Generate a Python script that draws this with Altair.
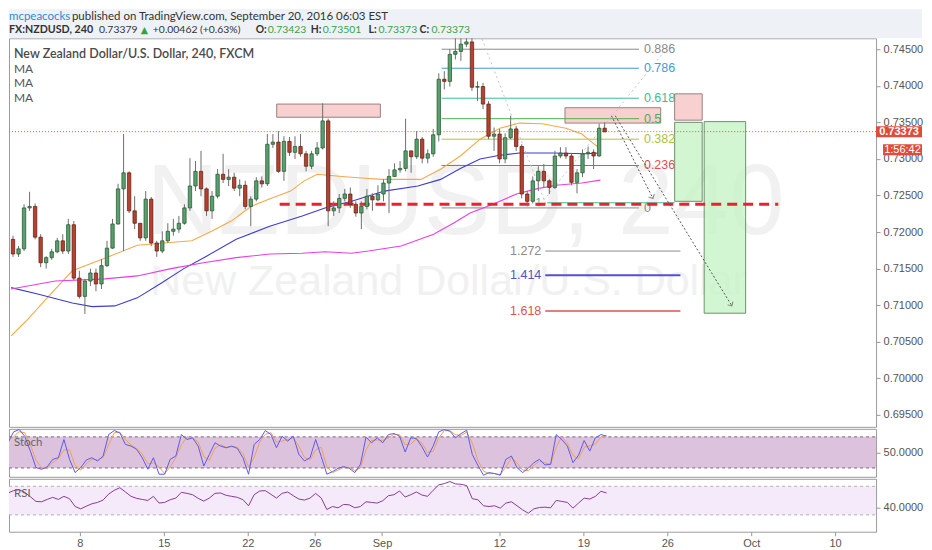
import altair as alt
import pandas as pd

# ---------------------------------------------------------------- data
# time unit: trading days counted from Monday 8 Aug 2016 (axis label "8"); one candle = 8 h
BAR_T0 = -4.286
BAR_STEP = 1 / 3

FIRST_OPEN = 0.7190
CLOSES = [
    0.7170, 0.7177, 0.7233, 0.7235, 0.7193, 0.7158, 0.7165, 0.7173, 0.7188, 0.7174,
    0.7210, 0.7137, 0.7112, 0.7133, 0.7144, 0.7129, 0.7154, 0.7178, 0.7211, 0.7259,
    0.7281, 0.7229, 0.7212, 0.7192, 0.7245, 0.7185, 0.7174, 0.7188, 0.7201, 0.7204,
    0.7212, 0.7233, 0.7263, 0.7283, 0.7259, 0.7229, 0.7249, 0.7279, 0.7272, 0.7275,
    0.7260, 0.7264, 0.7235, 0.7245, 0.7270, 0.7266, 0.7320, 0.7323, 0.7283, 0.7324,
    0.7309, 0.7317, 0.7307, 0.7290, 0.7307, 0.7315, 0.7352, 0.7229, 0.7233, 0.7246,
    0.7252, 0.7238, 0.7226, 0.7235, 0.7249, 0.7244, 0.7252, 0.7267, 0.7276, 0.7285,
    0.7287, 0.7311, 0.7303, 0.7327, 0.7301, 0.7307, 0.7333, 0.7409, 0.7406, 0.7443,
    0.7447, 0.7457, 0.7460, 0.7398, 0.7399, 0.7375, 0.7331, 0.7334, 0.7300, 0.7329,
    0.7341, 0.7317, 0.7252, 0.7242, 0.7270, 0.7283, 0.7270, 0.7261, 0.7304, 0.7308,
    0.7304, 0.7268, 0.7281, 0.7307, 0.7309, 0.7304, 0.7342, 0.7337,
]
HIGHS = [
    0.7195, 0.7181, 0.7238, 0.7255, 0.7239, 0.7197, 0.7167, 0.7177, 0.7192, 0.7197,
    0.7218, 0.7215, 0.7147, 0.7136, 0.7150, 0.7150, 0.7163, 0.7188, 0.7218, 0.7266,
    0.7334, 0.7283, 0.7249, 0.7212, 0.7256, 0.7248, 0.7188, 0.7201, 0.7212, 0.7218,
    0.7222, 0.7238, 0.7301, 0.7297, 0.7311, 0.7261, 0.7256, 0.7286, 0.7307, 0.7286,
    0.7281, 0.7272, 0.7270, 0.7249, 0.7275, 0.7276, 0.7334, 0.7334, 0.7338, 0.7331,
    0.7330, 0.7331, 0.7334, 0.7311, 0.7311, 0.7323, 0.7376, 0.7355, 0.7242, 0.7252,
    0.7259, 0.7261, 0.7242, 0.7242, 0.7259, 0.7253, 0.7264, 0.7272, 0.7286, 0.7294,
    0.7297, 0.7355, 0.7311, 0.7338, 0.7330, 0.7313, 0.7341, 0.7417, 0.7420, 0.7450,
    0.7465, 0.7465, 0.7465, 0.7465, 0.7406, 0.7404, 0.7379, 0.7343, 0.7341, 0.7335,
    0.7359, 0.7345, 0.7320, 0.7256, 0.7276, 0.7290, 0.7293, 0.7272, 0.7311, 0.7316,
    0.7316, 0.7308, 0.7286, 0.7313, 0.7317, 0.7313, 0.7348, 0.7350,
]
LOWS = [
    0.7166, 0.7166, 0.7174, 0.7229, 0.7190, 0.7152, 0.7150, 0.7162, 0.7171, 0.7170,
    0.7170, 0.7134, 0.7109, 0.7088, 0.7126, 0.7119, 0.7122, 0.7152, 0.7177, 0.7210,
    0.7174, 0.7226, 0.7204, 0.7188, 0.7188, 0.7181, 0.7166, 0.7171, 0.7185, 0.7195,
    0.7199, 0.7210, 0.7229, 0.7256, 0.7249, 0.7222, 0.7218, 0.7246, 0.7267, 0.7263,
    0.7256, 0.7249, 0.7231, 0.7208, 0.7242, 0.7261, 0.7263, 0.7315, 0.7281, 0.7270,
    0.7304, 0.7300, 0.7303, 0.7283, 0.7286, 0.7304, 0.7313, 0.7208, 0.7222, 0.7226,
    0.7242, 0.7233, 0.7221, 0.7204, 0.7231, 0.7229, 0.7242, 0.7242, 0.7226, 0.7276,
    0.7281, 0.7283, 0.7281, 0.7300, 0.7294, 0.7294, 0.7303, 0.7324, 0.7395, 0.7399,
    0.7436, 0.7434, 0.7453, 0.7393, 0.7379, 0.7368, 0.7327, 0.7311, 0.7294, 0.7294,
    0.7327, 0.7311, 0.7246, 0.7235, 0.7239, 0.7256, 0.7261, 0.7252, 0.7259, 0.7301,
    0.7300, 0.7264, 0.7253, 0.7275, 0.7300, 0.7286, 0.7303, 0.7337,
]

STOCH_K = [
    68.6, 89.6, 94.1, 81.3, 52.6, 20.7, 17.5, 22.0, 36.6, 39.8,
    75.0, 36.6, 11.1, 20.7, 35.4, 39.8, 33.4, 43.0, 84.5, 92.2,
    87.7, 65.4, 62.2, 55.8, 39.8, 17.5, 39.8, 7.9, 7.9, 36.6,
    43.0, 84.5, 75.0, 78.1, 62.2, 23.9, 46.2, 68.6, 62.2, 59.0,
    62.2, 57.7, 39.8, 7.9, 65.4, 75.0, 92.2, 84.5, 59.0, 81.3,
    71.8, 81.3, 46.2, 33.4, 39.8, 75.0, 42.0, 7.9, 13.0, 19.4,
    22.6, 19.4, 11.1, 27.0, 79.4, 68.6, 78.1, 68.6, 84.5, 86.4,
    81.3, 50.7, 78.1, 76.9, 60.9, 41.1, 62.2, 89.6, 94.1, 90.9,
    78.1, 86.4, 92.8, 46.2, 25.1, 6.0, 11.1, 9.2, 6.0, 36.6,
    43.0, 20.7, 11.1, 19.4, 30.2, 36.6, 25.8, 27.0, 84.5, 75.0,
    62.2, 30.2, 44.9, 73.0, 52.6, 78.1, 84.5, 81.3,
]
STOCH_D = [
    75, 80, 90, 88, 65, 35, 20, 20, 30, 38,
    55, 55, 25, 16, 28, 37, 36, 40, 65, 88,
    89, 75, 64, 58, 47, 28, 30, 22, 9, 22,
    40, 65, 80, 78, 70, 42, 35, 58, 65, 60,
    61, 60, 48, 22, 40, 70, 85, 88, 70, 72,
    75, 78, 62, 40, 36, 55, 60, 22, 11, 16,
    21, 21, 15, 20, 55, 73, 74, 73, 78, 85,
    84, 65, 66, 76, 68, 50, 52, 78, 92, 92,
    84, 83, 89, 68, 35, 14, 9, 9, 7, 22,
    40, 30, 16, 15, 25, 33, 30, 27, 60, 80,
    68, 44, 38, 60, 63, 66, 80, 83,
]
RSI = [
    60.6, 63.9, 65.3, 61.5, 55.4, 48.8, 48.3, 51.6, 54.5, 51.6,
    55.9, 52.6, 41.7, 38.4, 42.2, 45.5, 47.4, 50.7, 59.2, 64.4,
    68.0, 62.0, 55.9, 53.1, 51.6, 50.2, 55.9, 46.5, 47.4, 51.2,
    53.5, 61.5, 60.1, 58.2, 53.1, 49.3, 53.5, 60.1, 60.6, 57.3,
    55.9, 54.5, 51.2, 42.7, 58.2, 63.4, 63.9, 58.7, 53.5, 60.1,
    62.0, 56.8, 52.1, 50.7, 53.5, 60.0, 53.5, 37.5, 41.7, 39.9,
    44.6, 44.1, 39.9, 41.7, 48.3, 47.4, 46.5, 49.8, 56.8, 58.2,
    63.4, 55.0, 58.2, 62.0, 57.8, 55.9, 64.4, 71.9, 73.8, 76.6,
    73.3, 72.8, 71.0, 52.6, 51.2, 42.7, 41.7, 42.7, 39.4, 46.5,
    48.3, 42.7, 37.0, 32.3, 38.4, 40.3, 40.8, 39.9, 50.2, 48.8,
    47.4, 39.4, 46.5, 53.5, 52.1, 55.9, 63.0, 60.6,
]

MA_ORANGE_T = [-4.40, -3.51, -2.02, -0.71, 0.54, 1.55, 3.21, 4.82, 6.49, 7.68, 8.87, 10.06,
               11.25, 12.44, 13.27, 14.05, 15.54, 16.73, 17.92, 20.30, 21.49, 22.68, 23.87,
               25.06, 26.25, 27.62, 29.05, 30.00, 30.60, 31.01]
MA_ORANGE_P = [0.7058, 0.7078, 0.7115, 0.7147, 0.7158, 0.7167, 0.7182, 0.7185, 0.7188, 0.7201,
               0.7215, 0.7235, 0.7246, 0.7256, 0.7270, 0.7279, 0.7276, 0.7274, 0.7272, 0.7272,
               0.7286, 0.7304, 0.7327, 0.7342, 0.7349, 0.7348, 0.7342, 0.7334, 0.7323, 0.7316]
MA_BLUE_T = [-4.40, -2.74, -0.71, 0.48, 1.85, 3.21, 4.64, 6.01, 7.38, 9.17, 11.19, 13.15,
             14.52, 16.13, 18.10, 20.12, 21.49, 22.68, 23.87, 25.06, 26.25, 28.21, 30.24, 31.13]
MA_BLUE_P = [0.7124, 0.7115, 0.7103, 0.7098, 0.7099, 0.7110, 0.7130, 0.7150, 0.7167, 0.7190,
             0.7208, 0.7222, 0.7233, 0.7242, 0.7256, 0.7263, 0.7272, 0.7287, 0.7300, 0.7305,
             0.7308, 0.7308, 0.7307, 0.7308]
MA_MAGENTA_T = [-4.40, -1.73, 1.25, 3.21, 5.24, 7.20, 9.17, 11.19, 13.15, 14.52, 16.13,
                17.14, 19.11, 21.07, 22.26, 23.27, 24.64, 26.07, 27.26, 28.45, 30.00, 31.13]
MA_MAGENTA_P = [0.7122, 0.7133, 0.7136, 0.7140, 0.7150, 0.7158, 0.7165, 0.7170, 0.7171, 0.7173,
                0.7171, 0.7174, 0.7181, 0.7197, 0.7212, 0.7226, 0.7238, 0.7252, 0.7259, 0.7264,
                0.7267, 0.7271]

FIB_LABELS = ["0.886", "0.786", "0.618", "0.5", "0.382", "0.236", "0"]
FIB_PRICES = [0.7450, 0.7424, 0.7383, 0.7355, 0.7327, 0.7291, 0.7233]
FIB_COLORS = ["#8a8a8a", "#3e9bd3", "#3dbb98", "#4caf50", "#aac43c", "#d9534f", "#8a8a8a"]
FIB_T = (21.55, 33.45)
FIB_LABEL_T = 33.75

EXT_LABELS = ["1.272", "1.414", "1.618"]
EXT_PRICES = [0.7174, 0.7141, 0.7092]
EXT_COLORS = ["#8a8a8a", "#5252cc", "#d9534f"]
EXT_WIDTHS = [1.0, 2.0, 1.5]
EXT_T = (27.80, 35.95)
EXT_LABEL_T = 27.56

ONE_T = (27.92, 35.60)
ONE_P = 0.7240
ONE_LABEL_T = 27.40

ZONE_T0 = [11.61, 28.99, 35.60, 35.60, 37.38]
ZONE_T1 = [17.86, 34.76, 37.26, 37.26, 39.88]
ZONE_TOP = [0.7375, 0.7370, 0.7389, 0.7350, 0.7351]
ZONE_BOT = [0.7357, 0.7349, 0.7353, 0.7242, 0.7089]
ZONE_FILL = ["#f8c4c4", "#f8c4c4", "#f8c4c4", "#c6f4c6", "#c6f4c6"]
ZONE_EDGE = ["#9a7f7f", "#9a7f7f", "#9a7f7f", "#6f8f6f", "#6f8f6f"]

SUPPORT_T = (11.79, 41.85)
SUPPORT_P = 0.7238
LAST_PRICE = 0.73373
TIMER_PRICE = 0.73124

PATH_ID = ["a", "a", "b", "b", "c", "c", "d", "d"]
PATH_T = [23.99, 27.92, 27.32, 35.48, 31.79, 34.29, 32.02, 39.05]
PATH_P = [0.7464, 0.7233, 0.7233, 0.7461, 0.7359, 0.7246, 0.7359, 0.7099]
PATH_COL = ["#c4c4c4", "#c4c4c4", "#c4c4c4", "#c4c4c4", "#555555", "#555555", "#555555", "#555555"]
ARROW_T = [34.29, 39.05]
ARROW_P = [0.7246, 0.7099]
ARROW_ANGLE = [333, 328]

PRICE_TICKS = [0.695, 0.700, 0.705, 0.710, 0.715, 0.720, 0.725, 0.730, 0.735, 0.740, 0.745]
DATE_TICKS = [0, 5, 10, 14, 18, 25, 30, 35, 40, 45]
DATE_LABELS = ["8", "15", "22", "26", "Sep", "12", "19", "26", "Oct", "10"]

# ---------------------------------------------------------------- layout
W = 868
H_MAIN, H_STOCH, H_RSI = 389, 48, 53
XS = alt.Scale(domain=[-4.226, 47.44], nice=False, zero=False)
YS = alt.Scale(domain=[0.69336, 0.74650], nice=False, zero=False)
YS_ST = alt.Scale(domain=[3, 95.5], nice=False, zero=False)
YS_RSI = alt.Scale(domain=[6.4, 80.5], nice=False, zero=False)
AX_FONT = "Liberation Sans"


def raxis(values, fmt):
    return alt.Axis(orient="right", values=values, format=fmt, tickSize=4, labelPadding=3,
                    domain=False, grid=False, labelFont=AX_FONT, labelFontSize=11,
                    labelColor="#555555", tickColor="#999999", title=None)


Y_AX = raxis(PRICE_TICKS, ".5f")
ST_AX = raxis([50], ".4f")
RSI_AX = raxis([40], ".4f")
label_expr = " : ".join(f"datum.value == {v} ? '{l}'" for v, l in zip(DATE_TICKS, DATE_LABELS)) + " : ''"
DATE_AX = alt.Axis(values=DATE_TICKS, labelExpr=label_expr, tickSize=4, labelPadding=2,
                   domain=False, grid=False, labelFont=AX_FONT, labelFontSize=11,
                   labelColor="#555555", tickColor="#999999", title=None)


def X(f, axis=None):
    return alt.X(f, type="quantitative", scale=XS, axis=axis)


def Y(f):
    return alt.Y(f, type="quantitative", scale=YS, axis=Y_AX)


dummy = pd.DataFrame({"k": [0]})


def ptext(txt, x, y, **kw):
    align = kw.pop("align", "left")
    baseline = kw.pop("baseline", "middle")
    return alt.Chart(dummy).mark_text(text=txt, align=align, baseline=baseline, **kw).encode(
        x=alt.value(x), y=alt.value(y))


# ---------------------------------------------------------------- frames
n = len(CLOSES)
times = [BAR_T0 + i * BAR_STEP for i in range(n)]
opens = [FIRST_OPEN] + CLOSES[:-1]
bars = pd.DataFrame({"t": times, "open": opens, "close": CLOSES, "high": HIGHS, "low": LOWS})
up = bars["close"] >= bars["open"]
bars["fill"] = up.map({True: "#58a06d", False: "#b6412f"})
bars["edge"] = up.map({True: "#22502c", False: "#5c1a10"})

osc = pd.DataFrame({"t": times, "k": STOCH_K, "d": STOCH_D, "rsi": RSI})

ma = pd.concat([
    pd.DataFrame({"t": MA_ORANGE_T, "p": MA_ORANGE_P, "ma": "orange", "col": "#f5a94a"}),
    pd.DataFrame({"t": MA_BLUE_T, "p": MA_BLUE_P, "ma": "blue", "col": "#3c3ccf"}),
    pd.DataFrame({"t": MA_MAGENTA_T, "p": MA_MAGENTA_P, "ma": "magenta", "col": "#e83fe3"}),
])
fib = pd.DataFrame({"t0": FIB_T[0], "t1": FIB_T[1], "tl": FIB_LABEL_T, "p": FIB_PRICES,
                    "label": FIB_LABELS, "col": FIB_COLORS})
ext = pd.DataFrame({"t0": EXT_T[0], "t1": EXT_T[1], "tl": EXT_LABEL_T, "p": EXT_PRICES,
                    "label": EXT_LABELS, "col": EXT_COLORS, "sw": EXT_WIDTHS})
one = pd.DataFrame({"t0": [ONE_T[0]], "t1": [ONE_T[1]], "tl": [ONE_LABEL_T], "p": [ONE_P], "label": ["1"]})
zones = pd.DataFrame({"t0": ZONE_T0, "t1": ZONE_T1, "top": ZONE_TOP, "bot": ZONE_BOT,
                      "fill": ZONE_FILL, "edge": ZONE_EDGE})
support = pd.DataFrame({"t0": [SUPPORT_T[0]], "t1": [SUPPORT_T[1]], "p": [SUPPORT_P]})
last = pd.DataFrame({"p": [LAST_PRICE], "hi": [LAST_PRICE + 0.00075], "lo": [LAST_PRICE - 0.00075],
                     "label": [f"{LAST_PRICE:.5f}"]})
timer = pd.DataFrame({"p": [TIMER_PRICE], "hi": [TIMER_PRICE + 0.00075], "lo": [TIMER_PRICE - 0.00075],
                      "label": ["1:56:42"]})
paths = pd.DataFrame({"id": PATH_ID, "t": PATH_T, "p": PATH_P, "col": PATH_COL})
arrows = pd.DataFrame({"t": ARROW_T, "p": ARROW_P, "ang": ARROW_ANGLE})

# ---------------------------------------------------------------- main panel
HF = "Lato"
GREEN_TXT = "#35a345"
L1, L2 = -21, -8
F1, F2 = 11.5, 10.4
layers = [
    alt.Chart(dummy).mark_rect(color="#eef1f5").encode(
        x=alt.value(0), x2=alt.value(914), y=alt.value(-29), y2=alt.value(0)),
    ptext("mcpeacocks", 0, L1, font=HF, fontSize=F1, color="#2f8ad0"),
    ptext("published on TradingView.com, September 20, 2016 06:03 EST", 63, L1,
          font=HF, fontSize=F1, color="#333333"),
    ptext("FX:NZDUSD, 240", 0, L2, font=HF, fontSize=F2 + 0.3, fontWeight="bold", color="#333333"),
    ptext("0.73379", 90, L2, font=HF, fontSize=F2, color="#333333"),
    ptext("▲", 132, L2, font="DejaVu Sans", fontSize=9.5, color=GREEN_TXT),
    ptext("+0.00462 (+0.63%)", 144, L2, font=HF, fontSize=F2, color="#333333"),
    ptext("O:", 247, L2, font=HF, fontSize=F2, fontWeight="bold", color="#333333"),
    ptext("0.73423", 259, L2, font=HF, fontSize=F2, color=GREEN_TXT),
    ptext("H:", 302, L2, font=HF, fontSize=F2, fontWeight="bold", color="#333333"),
    ptext("0.73501", 314, L2, font=HF, fontSize=F2, color=GREEN_TXT),
    ptext("L:", 360, L2, font=HF, fontSize=F2, fontWeight="bold", color="#333333"),
    ptext("0.73373", 370, L2, font=HF, fontSize=F2, color=GREEN_TXT),
    ptext("C:", 411, L2, font=HF, fontSize=F2, fontWeight="bold", color="#333333"),
    ptext("0.73373", 423, L2, font=HF, fontSize=F2, color=GREEN_TXT),
    # watermark
    ptext("NZDUSD, 240", 457, 166, align="center", font=AX_FONT, fontSize=100, color="#f1f1f1"),
    ptext("New Zealand Dollar/U.S. Dollar", 440, 244, align="center", font=AX_FONT, fontSize=43,
          color="#f1f1f1"),
    # zones
    alt.Chart(zones).mark_rect(strokeWidth=1, fillOpacity=0.8).encode(
        x=X("t0"), x2="t1", y=Y("top"), y2="bot",
        fill=alt.Fill("fill:N", scale=None), stroke=alt.Stroke("edge:N", scale=None)),
    # fibonacci retracement
    alt.Chart(fib).mark_rule(strokeWidth=1).encode(
        x=X("t0"), x2="t1", y=Y("p"), color=alt.Color("col:N", scale=None)),
    alt.Chart(fib).mark_text(align="left", baseline="middle", font=AX_FONT, fontSize=12.5).encode(
        x=X("tl"), y=Y("p"), text="label:N", color=alt.Color("col:N", scale=None)),
    # extension
    alt.Chart(ext).mark_rule().encode(
        x=X("t0"), x2="t1", y=Y("p"), color=alt.Color("col:N", scale=None),
        strokeWidth=alt.StrokeWidth("sw:Q", scale=None)),
    alt.Chart(ext).mark_text(align="right", baseline="middle", font=AX_FONT, fontSize=12.5).encode(
        x=X("tl"), y=Y("p"), text="label:N", color=alt.Color("col:N", scale=None)),
    alt.Chart(one).mark_rule(strokeWidth=1, color="#3dbb98").encode(x=X("t0"), x2="t1", y=Y("p")),
    alt.Chart(one).mark_text(align="center", baseline="middle", font=AX_FONT, fontSize=11,
                             color="#3dbb98").encode(x=X("tl"), y=Y("p"), text="label:N"),
    # moving averages
    alt.Chart(ma).mark_line(strokeWidth=1.1, clip=True).encode(
        x=X("t"), y=Y("p"), detail="ma:N", color=alt.Color("col:N", scale=None)),
    # faint projection lines
    alt.Chart(paths[paths["id"].isin(["a", "b"])]).mark_line(strokeWidth=1, strokeDash=[2, 3]).encode(
        x=X("t"), y=Y("p"), detail="id:N", color=alt.Color("col:N", scale=None)),
    # support
    alt.Chart(support).mark_rule(color="#e8232b", strokeWidth=3, strokeDash=[10, 6]).encode(
        x=X("t0"), x2="t1", y=Y("p")),
    # last price line
    alt.Chart(last).mark_rule(color="#e0513f", strokeWidth=1, strokeDash=[1, 2]).encode(
        x=alt.value(0), x2=alt.value(W), y=Y("p")),
    # candles
    alt.Chart(bars).mark_rule(color="#6e6e6e", strokeWidth=1).encode(x=X("t"), y=Y("low"), y2="high"),
    alt.Chart(bars).mark_bar(size=3.4, strokeWidth=0.7).encode(
        x=X("t"), y=Y("open"), y2="close",
        color=alt.Color("fill:N", scale=None), stroke=alt.Stroke("edge:N", scale=None)),
    # projection arrows
    alt.Chart(paths[paths["id"].isin(["c", "d"])]).mark_line(strokeWidth=1, strokeDash=[2, 2]).encode(
        x=X("t"), y=Y("p"), detail="id:N", color=alt.Color("col:N", scale=None)),
    alt.Chart(arrows).mark_point(shape="M -1 -1 L 0 0 L 1 -1", filled=False, size=40,
                                 strokeWidth=1, color="#555555").encode(
        x=X("t"), y=Y("p"), angle=alt.Angle("ang:Q", scale=None)),
    # legend texts
    ptext("New Zealand Dollar/U.S. Dollar, 240, FXCM", 5, 16, font=HF, fontSize=12.5,
          fontWeight=600, color="#4a4a4a"),
    ptext("MA", 5, 31, font=HF, fontSize=12, color="#555555"),
    ptext("MA", 5, 45, font=HF, fontSize=12, color="#555555"),
    ptext("MA", 5, 60, font=HF, fontSize=12, color="#555555"),
    # last price / timer badges on the price scale
    alt.Chart(last).mark_rect(color="#e04b3a").encode(
        x=alt.value(W), x2=alt.value(W + 46), y=Y("hi"), y2="lo"),
    alt.Chart(last).mark_text(color="white", font=AX_FONT, fontSize=11, fontWeight="bold",
                              align="center", baseline="middle").encode(
        x=alt.value(W + 23), y=Y("p"), text="label:N"),
    alt.Chart(timer).mark_rect(color="#e04b3a").encode(
        x=alt.value(W + 7), x2=alt.value(W + 46), y=Y("hi"), y2="lo"),
    alt.Chart(timer).mark_text(color="white", font=AX_FONT, fontSize=11,
                               align="center", baseline="middle").encode(
        x=alt.value(W + 26.5), y=Y("p"), text="label:N"),
]
main = alt.layer(*layers).properties(width=W, height=H_MAIN)

# ---------------------------------------------------------------- stochastic panel
band_st = pd.DataFrame({"lo": [20], "hi": [80]})
lvl_st = pd.DataFrame({"v": [20, 80]})


def YSt(f):
    return alt.Y(f, type="quantitative", scale=YS_ST, axis=ST_AX)


stoch = alt.layer(
    alt.Chart(band_st).mark_rect(color="#dcc2dc").encode(
        x=alt.value(0), x2=alt.value(W), y=YSt("lo"), y2="hi"),
    alt.Chart(lvl_st).mark_rule(color="#7a6a7a", strokeWidth=1, strokeDash=[3, 3]).encode(
        x=alt.value(0), x2=alt.value(W), y=YSt("v")),
    alt.Chart(osc).mark_line(color="#f0a05a", strokeWidth=1, clip=True).encode(x=X("t"), y=YSt("d")),
    alt.Chart(osc).mark_line(color="#5b5be8", strokeWidth=1, clip=True).encode(x=X("t"), y=YSt("k")),
    ptext("Stoch", 5, 14, font=HF, fontSize=11.5, color="#666666"),
).properties(width=W, height=H_STOCH)

# ---------------------------------------------------------------- RSI panel
band_rsi = pd.DataFrame({"lo": [30], "hi": [70]})
lvl_rsi = pd.DataFrame({"v": [30, 70]})


def YR(f):
    return alt.Y(f, type="quantitative", scale=YS_RSI, axis=RSI_AX)


rsi = alt.layer(
    alt.Chart(band_rsi).mark_rect(color="#f4eafa").encode(
        x=alt.value(0), x2=alt.value(W), y=YR("lo"), y2="hi"),
    alt.Chart(lvl_rsi).mark_rule(color="#b0b0b0", strokeWidth=1, strokeDash=[3, 3]).encode(
        x=alt.value(0), x2=alt.value(W), y=YR("v")),
    alt.Chart(osc).mark_line(color="#8b3a9b", strokeWidth=1, clip=True).encode(
        x=X("t", DATE_AX), y=YR("rsi")),
    ptext("RSI", 5, 15, font=HF, fontSize=11.5, color="#666666"),
).properties(width=W, height=H_RSI)

chart = alt.vconcat(main, stoch, rsi, spacing=0).properties(
    padding={"left": 0, "top": 0, "right": 0, "bottom": 0}, background="#ffffff"
).configure_view(stroke="#9c9c9c", strokeWidth=1)

chart.save("out.html", embed_options={"renderer": "svg", "actions": False})
